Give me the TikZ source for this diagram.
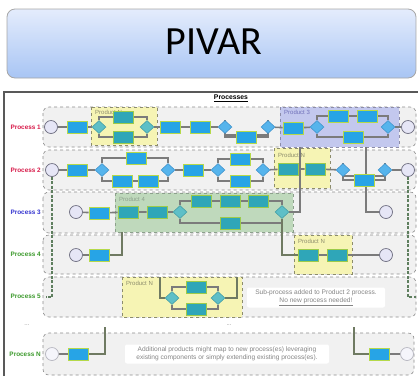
\documentclass[tikz,border=0pt]{standalone}
\usepackage{fontspec}
\setmainfont{Liberation Sans}
\newfontfamily\titlefont{Carlito}
\usetikzlibrary{shapes.geometric}
\pgfdeclarelayer{base}
\pgfdeclarelayer{flows}
\pgfsetlayers{base,flows,main}

\definecolor{taskblue}{HTML}{27A4E6}
\definecolor{taskedge}{HTML}{B5D94A}
\definecolor{tealtask}{HTML}{2FA6B8}
\definecolor{tealedge}{HTML}{9CCB4A}
\definecolor{gateblue}{HTML}{56B4EC}
\definecolor{gateedge}{HTML}{3C8FC8}
\definecolor{tealgate}{HTML}{5EBFC7}
\definecolor{tealgedge}{HTML}{3E9AA2}
\definecolor{evfill}{HTML}{E6E6F6}
\definecolor{evedge}{HTML}{6E6E80}
\definecolor{flowgray}{HTML}{7B7B7B}
\definecolor{lanefill}{HTML}{F1F1F1}
\definecolor{laneedge}{HTML}{8C8C8C}
\definecolor{prodNfill}{HTML}{F6F4B4}
\definecolor{prodNedge}{HTML}{8C8C6C}
\definecolor{prodThreefill}{HTML}{C3C8EE}
\definecolor{prodThreeedge}{HTML}{8C8CA8}
\definecolor{prodFourfill}{HTML}{BFD9BC}
\definecolor{prodFouredge}{HTML}{8CA08C}
\definecolor{dashgreen}{HTML}{5F7F5F}
\definecolor{linkolive}{HTML}{6F7A62}
\definecolor{redlab}{HTML}{D81B4A}
\definecolor{bluelab}{HTML}{3535D0}
\definecolor{greenlab}{HTML}{3C9A2C}
\definecolor{notegray}{HTML}{858585}
\definecolor{titletop}{HTML}{E4ECFC}
\definecolor{titlebottom}{HTML}{A8C5F4}

\begin{document}
\begin{tikzpicture}[x=1pt,y=-1pt,
  task/.style={rectangle,fill=taskblue,draw=taskedge,line width=0.6pt,
    minimum width=20pt,minimum height=12pt,inner sep=0pt},
  ttask/.style={task,fill=tealtask,draw=tealedge},
  gate/.style={diamond,fill=gateblue,draw=gateedge,line width=0.5pt,
    minimum width=14pt,minimum height=13pt,inner sep=0pt},
  tgate/.style={gate,fill=tealgate,draw=tealgedge},
  ev/.style={circle,fill=evfill,draw=evedge,line width=0.7pt,
    minimum size=13pt,inner sep=0pt},
  evlight/.style={ev,fill=white!60!evfill,draw=evedge!50},
  flow/.style={draw=flowgray,line width=1.6pt},
  link/.style={draw=linkolive,line width=1.8pt},
  dashflow/.style={draw=dashgreen,line width=1.6pt,dash pattern=on 3pt off 1.5pt},
  lane/.style={draw=laneedge,fill=lanefill,dashed,line width=0.6pt,rounded corners=6pt},
  prod/.style={dashed,line width=0.7pt},
  prodlab/.style={anchor=west,inner sep=0pt,font=\fontsize{6}{6}\selectfont},
  plabel/.style={anchor=east,inner sep=0pt,font=\bfseries\fontsize{6.4}{7}\selectfont},
  note/.style={fill=white,draw=none,rounded corners=2pt,text=notegray,
    align=center,inner sep=0pt,font=\fontsize{6.6}{8}\selectfont},
  dots/.style={text=notegray,inner sep=0pt,font=\fontsize{6}{6}\selectfont}
]
\useasboundingbox (0,0) rectangle (418,376);

% ---------- title bar ----------
\path[draw=gray!70,line width=0.8pt,rounded corners=8pt,
  top color=titletop,bottom color=titlebottom]
  (7,9) rectangle (416,78);
\node[inner sep=0pt] (title) at (214,41.5) {\titlefont\fontsize{40}{40}\selectfont PIVAR};

% ---------- panel, lanes and product boxes ----------
\begin{pgfonlayer}{base}
  \fill[white] (4,92) rectangle (418,376);
  \draw[draw=black!65,line width=1.1pt] (4,376) -- (4,92) -- (418,92);

  \path[lane] (43,107) rectangle (416,147);
  \path[lane] (43,150) rectangle (416,190);
  \path[lane] (43,192) rectangle (416,233);
  \path[lane] (43,235) rectangle (416,274);
  \path[lane] (43,277) rectangle (416,317);
  \path[lane] (43,333) rectangle (414,375);

  \path[prod,fill=prodNfill,draw=prodNedge] (91,107) rectangle (157,145);
  \path[prod,fill=prodThreefill,draw=prodThreeedge] (280,107) rectangle (399,147);
  \path[prod,fill=prodNfill,draw=prodNedge] (274,148) rectangle (330,188);
  \path[prod,fill=prodFourfill,draw=prodFouredge] (115,193) rectangle (293,232);
  \path[prod,fill=prodNfill,draw=prodNedge] (294,235) rectangle (352,274);
  \path[prod,fill=prodNfill,draw=prodNedge] (122,277) rectangle (242,317);

  \node[prodlab,text=prodNedge] (lpa) at (95,112) {Product N};
  \node[prodlab,text=prodThreeedge!80!blue] (lp3) at (284,112) {Product 3};
  \node[prodlab,text=prodNedge] (lpb) at (278,155) {Product N};
  \node[prodlab,text=prodFouredge] (lp4) at (119,199) {Product 4};
  \node[prodlab,text=prodNedge] (lpc) at (298,241) {Product N};
  \node[prodlab,text=prodNedge] (lpd) at (126,283) {Product N};
\end{pgfonlayer}

% ---------- headings and lane labels ----------
\node[inner sep=0pt,font=\bfseries\fontsize{6.8}{7}\selectfont] (hdr) at (231,98) {\underline{Processes}};
\node[plabel,text=redlab] (pl1) at (41,127) {Process 1};
\node[plabel,text=redlab] (pl2) at (41,170) {Process 2};
\node[plabel,text=bluelab] (pl3) at (41,212) {Process 3};
\node[plabel,text=greenlab] (pl4) at (41,254) {Process 4};
\node[plabel,text=greenlab] (pl5) at (41,296) {Process 5};
\node[plabel,text=greenlab] (plN) at (41,354) {Process N};
\node[dots] (dl) at (27,325) {...};
\node[dots] (dm) at (229,325) {...};

% ---------- process 1 ----------
\node[ev] (e11) at (51,127) {};
\node[task] (t11) at (77,127) {};
\node[tgate] (g11) at (99,127) {};
\node[ttask] (t12) at (123,117) {};
\node[ttask] (t13) at (123,137) {};
\node[tgate] (g12) at (147,127) {};
\node[task] (t14) at (170,127) {};
\node[task] (t15) at (200,127) {};
\node[gate] (g13) at (225,127) {};
\node[task] (t16) at (246,137) {};
\node[gate] (g14) at (268,127) {};
\node[task] (t17) at (293,128) {};
\node[gate] (g15) at (317,127) {};
\node[task] (t18) at (338,116) {};
\node[task] (t19) at (367,116) {};
\node[task] (t20) at (353,137) {};
\node[gate] (g16) at (388,127) {};
\node[ev] (e12) at (408,127) {};

% ---------- process 2 ----------
\node[ev] (e21) at (52,170) {};
\node[task] (t21) at (77,170) {};
\node[gate] (g21) at (102,170) {};
\node[task] (t22) at (136,158) {};
\node[task] (t23) at (122,181) {};
\node[task] (t24) at (148,181) {};
\node[gate] (g22) at (168,170) {};
\node[task] (t25) at (193,170) {};
\node[gate] (g23) at (218,170) {};
\node[task] (t26) at (240,159) {};
\node[task] (t27) at (240,181) {};
\node[gate] (g24) at (263,170) {};
\node[ttask] (t28) at (288,169) {};
\node[ttask] (t29) at (315,169) {};
\node[gate] (g25) at (343,170) {};
\node[task] (t30) at (364,180) {};
\node[gate] (g26) at (385,170) {};
\node[ev] (e22) at (408,170) {};

% ---------- process 3 ----------
\node[ev] (e31) at (76,212) {};
\node[task] (t31) at (99,213) {};
\node[ttask] (t32) at (128,212) {};
\node[ttask] (t33) at (157,212) {};
\node[tgate] (g31) at (180,212) {};
\node[ttask] (t34) at (201,201) {};
\node[ttask] (t35) at (230,201) {};
\node[ttask] (t36) at (258,201) {};
\node[ttask] (t37) at (230,223) {};
\node[tgate] (g32) at (282,212) {};
\node[ev] (e32) at (386,212) {};

% ---------- process 4 ----------
\node[ev] (e41) at (76,255) {};
\node[task] (t41) at (99,255) {};
\node[ttask] (t42) at (308,255) {};
\node[ttask] (t43) at (337,255) {};
\node[ev] (e42) at (386,255) {};

% ---------- process 5 (sub-process) ----------
\node[tgate] (g51) at (172,298) {};
\node[ttask] (t51) at (196,287) {};
\node[ttask] (t52) at (196,309) {};
\node[tgate] (g52) at (218,298) {};
\node[note,minimum width=138pt,minimum height=20pt] (n1) at (316,297.5)
  {Sub-process added to Product 2 process.\\\underline{No new process needed!}};

% ---------- process N ----------
\node[evlight] (eN1) at (52,354) {};
\node[task] (tN1) at (78,354) {};
\node[note,minimum width=204pt,minimum height=19pt] (n2) at (227,354)
  {Additional products might map to new process(es) leveraging\\existing components or simply extending existing process(es).};
\node[task] (tN2) at (379,354) {};
\node[evlight] (eN2) at (407,354) {};

% free ends of the cross-lane links
\coordinate (j3) at (300,147);
\coordinate (j4) at (366,147);
\coordinate (j5) at (122,232);
\coordinate (j6) at (160,277);
\coordinate (j7) at (237,277);
\coordinate (jN1) at (105,327);
\coordinate (jN2) at (354,327);
\coordinate (k2) at (46,297);
\coordinate (k3) at (416,297);

% ---------- sequence flows ----------
\begin{pgfonlayer}{flows}
  % process 1
  \draw[flow] (e11) -- (t11) -- (g11);
  \draw[flow] (g11.north) |- (t12) -| (g12.north);
  \draw[flow] (g11.south) |- (t13) -| (g12.south);
  \draw[flow] (g12) -- (t14) -- (t15) -- (g13);
  \draw[flow] (g13.north) |- ([yshift=-15pt]g14.north) -- (g14.north);
  \draw[flow] (g13.south) |- (t16) -| (g14.south);
  \draw[flow] (g14) -- (t17) -- (g15);
  \draw[flow] (g15.north) |- (t18) -- (t19) -| (g16.north);
  \draw[flow] (g15.south) |- (t20) -| (g16.south);
  \draw[flow] (g16) -- (e12);
  % process 2
  \draw[flow] (e21) -- (t21) -- (g21);
  \draw[flow] (g21.north) |- (t22) -| (g22.north);
  \draw[flow] (g21.south) |- (t23) -- (t24) -| (g22.south);
  \draw[flow] (g22) -- (t25) -- (g23);
  \draw[flow] (g23.north) |- (t26) -| (g24.north);
  \draw[flow] (g23.south) |- (t27) -| (g24.south);
  \draw[flow] (g24) -- (t28) -- (t29) -- (g25);
  \draw[flow] (g25.north) |- ([yshift=-13pt]g26.north) -- (g26.north);
  \draw[flow] (g25.south) |- (t30) -| (g26.south);
  \draw[flow] (g26) -- (e22);
  % process 3
  \draw[flow] (e31) -- (t31) -- (t32) -- (t33) -- (g31);
  \draw[flow] (g31.north) |- (t34) -- (t35) -- (t36) -| (g32.north);
  \draw[flow] (g31.south) |- (t37) -| (g32.south);
  % process 4
  \draw[flow] (e41) -- (t41);
  \draw[flow] (t42) -- (t43) -- (e42);
  % process 5
  \draw[flow] (g51.north) |- (t51) -| (g52.north);
  \draw[flow] (g51.south) |- (t52) -| (g52.south);
  % cross-lane links
  \draw[flow] (g32.east) -| (j3);
  \draw[flow] (j4) |- (e32.west);
  \draw[link] (t41.east) -| (j5);
  \draw[link] (g32.south) |- (t42.west);
  \draw[link] (j6) |- (g51.west);
  \draw[link] (g52.east) -| (j7);
  \draw[link] (tN1.east) -| (jN1);
  \draw[link] (jN2) |- (tN2.west);
  \draw[flow] (tN2) -- (eN2);
  \draw[flow] (eN1) -- (tN1);
  % process 5 reuses process 2
  \draw[dashflow] (e21.south) |- (k2);
  \draw[dashflow] (e22.south) |- (k3);
\end{pgfonlayer}
\end{tikzpicture}
\end{document}
